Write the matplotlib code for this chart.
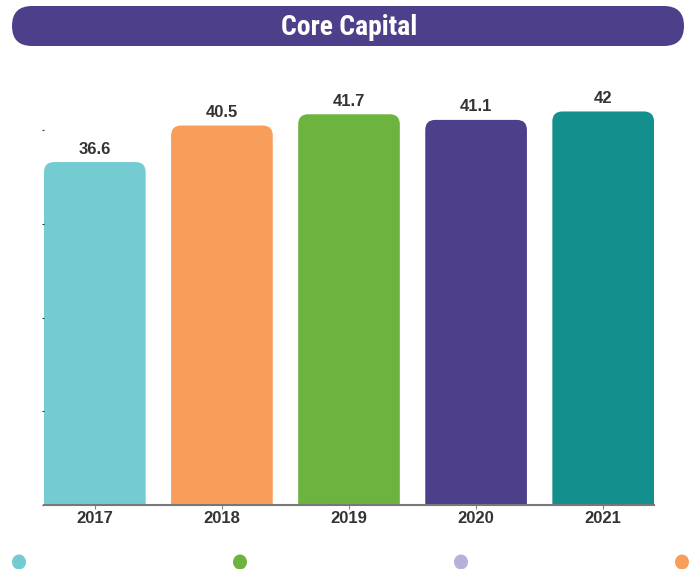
import matplotlib
matplotlib.use("Agg")
import matplotlib.pyplot as plt
from matplotlib.patches import FancyBboxPatch, Ellipse

# ---- data ----
years = ["2017", "2018", "2019", "2020", "2021"]
values = [36.6, 40.5, 41.7, 41.1, 42]
bar_colors = ["#74CBD1", "#F99E5A", "#6DB33F", "#4E3F8A", "#138F8E"]
title = "Core Capital"
legend_colors = ["#74CBD1", "#6DB33F", "#B8B0DA", "#F99E5A"]
yticks = [0, 10, 20, 30, 40]

W, H = 693, 569
fig = plt.figure(figsize=(W / 100, H / 100), dpi=100)

# background overlay in pixel coordinates
bg = fig.add_axes([0, 0, 1, 1], zorder=0)
bg.set_xlim(0, W)
bg.set_ylim(H, 0)
bg.axis("off")
banner = FancyBboxPatch((12, 6), 672, 40, boxstyle="round,pad=0,rounding_size=20",
                        fc="#4E3F8A", ec="none")
bg.add_patch(banner)
bg.text(349, 27, title, ha="center", va="center", color="white",
        fontsize=20, fontweight="bold",
        family=["Roboto Condensed", "DejaVu Sans"])
for i, c in enumerate(legend_colors):
    bg.add_patch(Ellipse((19 + i * 221, 562), 14, 15, fc=c, ec="none"))

# main axes
ymax = 45
px_per_unit = 9.37
ax = fig.add_axes([44 / W, (H - 505) / H, 610 / W, ymax * px_per_unit / H], zorder=1)
ax.patch.set_alpha(0)
xs = list(range(len(years)))
bars = ax.bar(xs, values, width=0.8, color=bar_colors)
ax.set_xlim(-0.4, len(years) - 0.6)
ax.set_ylim(0, ymax)

# replace bars with rounded-top versions
r_px = 10
x_unit_px = 610 / (len(years) - 0.2)
rx = r_px / x_unit_px
ry = r_px / px_per_unit
for rect, c, v in zip(bars, bar_colors, values):
    x0 = rect.get_x()
    w = rect.get_width()
    h = rect.get_height()
    rect.remove()
    p = FancyBboxPatch((x0, -3), w, h + 3,
                       boxstyle=f"round,pad=0,rounding_size={rx}",
                       mutation_aspect=ry / rx, fc=c, ec="none")
    ax.add_patch(p)
    ax.annotate(f"{v:g}", (x0 + w / 2, h), xytext=(0, 4), textcoords="offset points",
                ha="center", va="bottom", fontsize=12, fontweight="bold",
                color="#333333", family=["Liberation Sans", "DejaVu Sans"])

ax.set_xticks(xs, years)
for lbl in ax.get_xticklabels():
    lbl.set_fontweight("bold")
    lbl.set_fontsize(12)
    lbl.set_color("#333333")
    lbl.set_family(["Liberation Sans", "DejaVu Sans"])
ax.tick_params(axis="x", length=3, width=0.8, color="#888888", pad=1)
ax.set_yticks(yticks)
ax.set_yticklabels([])
ax.tick_params(axis="y", length=1.5, width=0.8, color="#333333")
for s in ["top", "right", "left"]:
    ax.spines[s].set_visible(False)
ax.spines["bottom"].set_color("#777777")
ax.spines["bottom"].set_linewidth(1.5)

fig.savefig("out.png", dpi=100)
